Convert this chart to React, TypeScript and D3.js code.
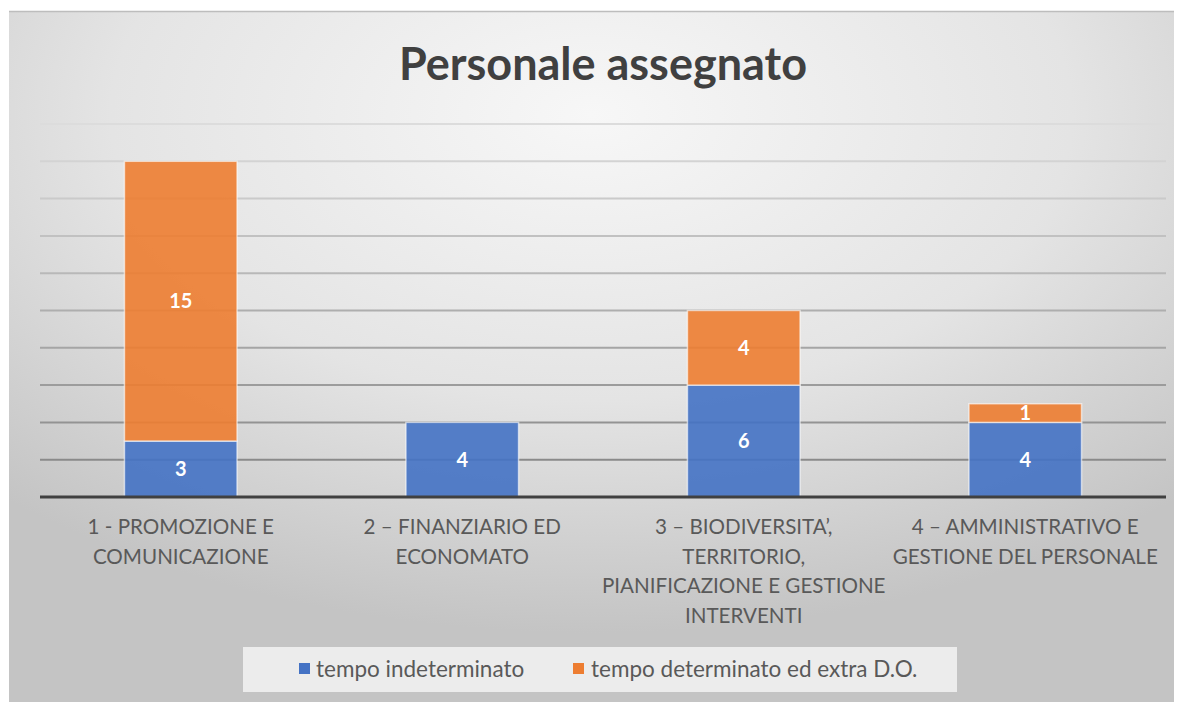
import * as d3 from 'd3';

const categories = [
  ['1 - PROMOZIONE E', 'COMUNICAZIONE'],
  ['2 – FINANZIARIO ED', 'ECONOMATO'],
  ['3 – BIODIVERSITA’,', 'TERRITORIO,', 'PIANIFICAZIONE E GESTIONE', 'INTERVENTI'],
  ['4 – AMMINISTRATIVO E', 'GESTIONE DEL PERSONALE'],
];
const indeterminato = [3, 4, 6, 4];
const determinato = [15, 0, 4, 1];
const seriesNames = ['tempo indeterminato', 'tempo determinato ed extra D.O.'];
const seriesColors = ['#4472C4', '#ED7D31'];
const gridTicks = [2, 4, 6, 8, 10, 12, 14, 16, 18, 20];

const W = 1183;
const H = 702;
const FONT = 'Lato, "Open Sans", sans-serif';

export default function App() {
  const x = d3.scaleBand<number>().domain(d3.range(categories.length)).range([40, 1166]).paddingInner(0.6).paddingOuter(0.3);
  const y = d3.scaleLinear().domain([0, 20]).range([497, 124]);
  const gridColor = d3.scaleLinear<string>().domain([20, 2]).range(['#dcdcdc', '#8a8a8a']);

  const stacks = d3.stack<number>().keys(['a', 'b']).value((i, k) => (k === 'a' ? indeterminato[i] : determinato[i]))(
    d3.range(categories.length)
  );

  return (
    <svg width={W} height={H} style={{ position: 'absolute', left: 0, top: 0 }}>
      <defs>
        <radialGradient id="bg" cx="50%" cy="15%" r="75%" fx="50%" fy="15%">
          <stop offset="0%" stopColor="#f7f7f7" />
          <stop offset="55%" stopColor="#e4e4e4" />
          <stop offset="100%" stopColor="#c4c4c4" />
        </radialGradient>
      </defs>
      <rect x={0} y={0} width={W} height={H} fill="#ffffff" />
      <rect x={9} y={11} width={1165} height={H - 11} fill="url(#bg)" />
      <line x1={9} x2={1174} y1={11.5} y2={11.5} stroke="#bdbdbd" strokeWidth={1.5} />

      <text x={603} y={80} textAnchor="middle" fontFamily={FONT} fontWeight={700} fontSize={45} fill="#404040">
        Personale assegnato
      </text>

      {gridTicks.map((t) => (
        <line key={t} x1={40} x2={1166} y1={y(t)} y2={y(t)} stroke={gridColor(t)} strokeWidth={2} />
      ))}

      {stacks.map((s, si) => (
        <g key={si}>
          {s.map((d, i) => {
            const v = d[1] - d[0];
            if (v <= 0) return null;
            const bx = x(i)!;
            const y0 = y(d[0]);
            const y1 = y(d[1]);
            return (
              <g key={i}>
                <rect
                  x={bx}
                  y={y1}
                  width={x.bandwidth()}
                  height={y0 - y1}
                  fill={seriesColors[si]}
                  fillOpacity={0.9}
                  stroke="#ffffff"
                  strokeOpacity={0.6}
                  strokeWidth={1.5}
                />
                <text
                  x={bx + x.bandwidth() / 2}
                  y={(y0 + y1) / 2 + 7}
                  textAnchor="middle"
                  fontFamily={FONT}
                  fontWeight={700}
                  fontSize={20}
                  fill="#ffffff"
                >
                  {v}
                </text>
              </g>
            );
          })}
        </g>
      ))}

      <line x1={40} x2={1166} y1={y(0)} y2={y(0)} stroke="#404040" strokeWidth={3} />

      {categories.map((lines, i) => (
        <text
          key={i}
          x={x(i)! + x.bandwidth() / 2}
          textAnchor="middle"
          fontFamily={FONT}
          fontSize={20.6}
          fill="#595959"
        >
          {lines.map((l, j) => (
            <tspan key={j} x={x(i)! + x.bandwidth() / 2} y={534 + j * 29.5}>
              {l}
            </tspan>
          ))}
        </text>
      ))}

      <rect x={243} y={647} width={714} height={45} fill="#ececec" />
      <rect x={299} y={663} width={11} height={11} fill={seriesColors[0]} />
      <text x={316} y={677} fontFamily={FONT} fontSize={22.5} fill="#595959">
        {seriesNames[0]}
      </text>
      <rect x={573} y={663} width={11} height={11} fill={seriesColors[1]} />
      <text x={591} y={677} fontFamily={FONT} fontSize={22.5} fill="#595959">
        {seriesNames[1]}
      </text>
    </svg>
  );
}
